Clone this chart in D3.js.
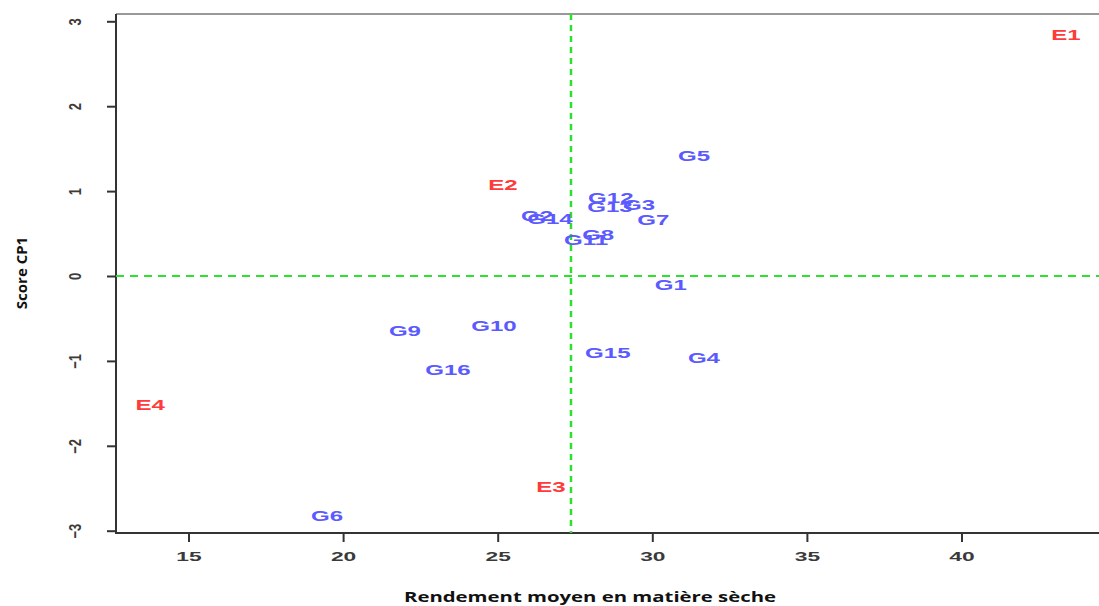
<!DOCTYPE html>
<html><head><meta charset="utf-8">
<script src="https://cdn.jsdelivr.net/npm/d3@7/dist/d3.min.js"></script>
<style>body{margin:0;background:#fff}svg{display:block}</style>
</head><body>
<svg id="c" width="1099" height="606"></svg>
<script>
const labels = ["E1","E2","E3","E4","G1","G2","G3","G4","G5","G6","G7","G8","G9","G10","G11","G12","G13","G14","G15","G16"];
const rendement = [43.38,25.17,26.72,13.76,30.6,26.27,29.57,31.67,31.35,19.48,30.03,28.25,22.0,24.88,27.86,28.66,28.63,26.69,28.56,23.39];
const scoreCP1 = [2.84,1.07,-2.49,-1.52,-0.11,0.71,0.84,-0.97,1.41,-2.83,0.66,0.48,-0.65,-0.59,0.42,0.92,0.81,0.67,-0.91,-1.11];
const xTicks = [15,20,25,30,35,40];
const yTicks = [3,2,1,0,-1,-2,-3];
const meanRendement = 27.37;

const svg = d3.select("#c");
const pLeft = 116, pTop = 14, pBottom = 533, pRight = 1110;
const x = d3.scaleLinear().domain([15,40]).range([188.5,961.5]);
const y = d3.scaleLinear().domain([0,3]).range([276,21.3]);

// top border
svg.append("line").attr("x1",pLeft).attr("x2",pRight).attr("y1",pTop).attr("y2",pTop)
  .attr("stroke","#999").attr("stroke-width",2);

// axes
const xAxis = d3.axisBottom(x).tickValues(xTicks).tickSize(9).tickPadding(8);
const gx = svg.append("g").attr("transform",`translate(0,${pBottom})`).call(xAxis);
gx.select(".domain").remove();
gx.append("line").attr("x1",pLeft).attr("x2",pRight).attr("y1",0).attr("y2",0).attr("stroke","#333").attr("stroke-width",2);
gx.selectAll(".tick line").attr("stroke","#333").attr("stroke-width",2);
gx.selectAll(".tick text").attr("fill","#3a3a3a").attr("font-family","Liberation Sans, Arial, sans-serif")
  .attr("font-size",12).attr("font-weight","bold")
  .attr("y",0).attr("dy","0.35em")
  .attr("transform","translate(0,24) scale(1.9,1)");

const yAxis = d3.axisLeft(y).tickValues(yTicks).tickSize(9).tickFormat(d3.format("d"));
const gy = svg.append("g").attr("transform",`translate(${pLeft},0)`).call(yAxis);
gy.select(".domain").remove();
gy.append("line").attr("x1",0).attr("x2",0).attr("y1",pTop).attr("y2",pBottom+1).attr("stroke","#333").attr("stroke-width",2);
gy.selectAll(".tick line").attr("stroke","#333").attr("stroke-width",2);
gy.selectAll(".tick text").attr("fill","#3a3a3a").attr("font-family","Liberation Sans, Arial, sans-serif")
  .attr("font-size",13).attr("font-weight","bold")
  .attr("x",null)
  .attr("text-anchor","middle")
  .attr("transform","translate(-41,0) rotate(-90) scale(1,1.3)")
  .attr("dy","0.35em");

// reference lines
svg.append("line").attr("x1",pLeft).attr("x2",pRight).attr("y1",y(0)).attr("y2",y(0))
  .attr("stroke","#2ee02e").attr("stroke-width",2).attr("stroke-dasharray","8,6");
svg.append("line").attr("x1",x(meanRendement)).attr("x2",x(meanRendement)).attr("y1",pTop).attr("y2",pBottom)
  .attr("stroke","#2ee02e").attr("stroke-width",2.5).attr("stroke-dasharray","6,5");

// labels
svg.append("g").selectAll("text").data(labels).join("text")
  .attr("transform",(d,i)=>`translate(${x(rendement[i])},${y(scoreCP1[i])}) scale(1.72,1)`)
  .attr("dy","0.36em").attr("text-anchor","middle")
  .attr("font-family","Liberation Sans, Arial, sans-serif").attr("font-size",14).attr("font-weight","bold")
  .attr("fill",d=>d[0]==="E"?"#ff3a3a":"#5a5aff")
  .text(d=>d);

// titles
svg.append("text").attr("x",590).attr("y",602).attr("text-anchor","middle")
  .attr("font-family","Open Sans, sans-serif").attr("font-weight","bold").attr("font-size",15)
  .attr("textLength",372).attr("lengthAdjust","spacingAndGlyphs")
  .attr("fill","#111").text("Rendement moyen en matière sèche");
svg.append("text").attr("transform","translate(27,273) rotate(-90)").attr("text-anchor","middle")
  .attr("font-family","Open Sans, sans-serif").attr("font-weight","bold").attr("font-size",15)
  .attr("fill","#111").text("Score CP1");
</script>
</body></html>
